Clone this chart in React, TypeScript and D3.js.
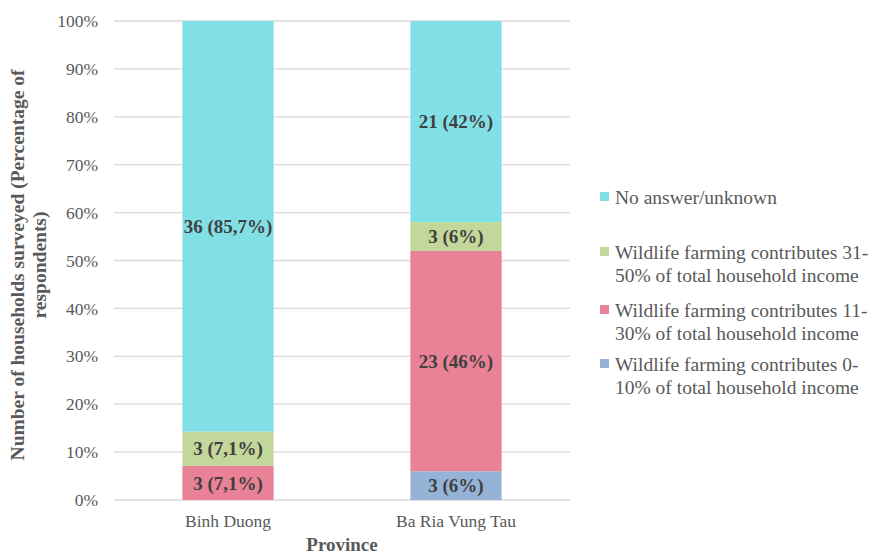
import React from "react";
import * as d3 from "d3";

const categories = ["Binh Duong", "Ba Ria Vung Tau"];
const seriesNames = [
  "Wildlife farming contributes 0-10% of total household income",
  "Wildlife farming contributes 11-30% of total household income",
  "Wildlife farming contributes 31-50% of total household income",
  "No answer/unknown",
];
const counts = [
  [0, 3],
  [3, 23],
  [3, 3],
  [36, 21],
];
const labels = [
  ["", "3 (6%)"],
  ["3 (7,1%)", "23 (46%)"],
  ["3 (7,1%)", "3 (6%)"],
  ["36 (85,7%)", "21 (42%)"],
];
const colors = ["#95B3D7", "#E98296", "#C4D79B", "#80E0E6"];
const yTicks = [0, 0.1, 0.2, 0.3, 0.4, 0.5, 0.6, 0.7, 0.8, 0.9, 1];

const legendOrder = [
  { idx: 3, lines: ["No answer/unknown"], y: 197 },
  { idx: 2, lines: ["Wildlife farming contributes 31-", "50% of total household income"], y: 252 },
  { idx: 1, lines: ["Wildlife farming contributes 11-", "30% of total household income"], y: 310 },
  { idx: 0, lines: ["Wildlife farming contributes 0-", "10% of total household income"], y: 364 },
];

export default function App() {
  const W = 876, H = 556;
  const left = 114, right = 570, top = 21, bottom = 500;
  const x = d3.scaleBand().domain(categories).range([left, right]).paddingInner(0.6).paddingOuter(0.3);
  const y = d3.scaleLinear().domain([0, 1]).range([bottom, top]);
  const totals = categories.map((_, ci) => d3.sum(counts, (s) => s[ci]));
  const font = '"Liberation Serif", "Times New Roman", Times, "DejaVu Serif", serif';

  const segs: any[] = [];
  categories.forEach((c, ci) => {
    let acc = 0;
    counts.forEach((s, si) => {
      const v = s[ci] / totals[ci];
      segs.push({ c, si, y0: acc, y1: acc + v, label: labels[si][ci] });
      acc += v;
    });
  });

  return (
    <svg width={W} height={H} style={{ position: "absolute", left: 0, top: 0, fontFamily: font }}>
      <rect width={W} height={H} fill="#fff" />
      {yTicks.map((t) => (
        <g key={t}>
          <line x1={left} x2={right} y1={y(t)} y2={y(t)} stroke="#D9D9D9" strokeWidth={1.3} />
          <text x={98} y={y(t)} dy="0.35em" textAnchor="end" fontSize={17.5} fill="#595959">
            {d3.format(".0%")(t)}
          </text>
        </g>
      ))}
      {segs.filter((s) => s.y1 > s.y0).map((s, i) => (
        <rect key={i} x={x(s.c)!} width={x.bandwidth()} y={y(s.y1)} height={y(s.y0) - y(s.y1)} fill={colors[s.si]} />
      ))}
      {segs.filter((s) => s.label).map((s, i) => (
        <text key={i} x={x(s.c)! + x.bandwidth() / 2} y={y((s.y0 + s.y1) / 2)} dy="0.35em" textAnchor="middle"
          fontSize={19} fontWeight="bold" fill="#404040">
          {s.label}
        </text>
      ))}
      {categories.map((c) => (
        <text key={c} x={x(c)! + x.bandwidth() / 2} y={527} textAnchor="middle" fontSize={17.5} fill="#595959">
          {c}
        </text>
      ))}
      <text x={342} y={551} textAnchor="middle" fontSize={19} fontWeight="bold" fill="#595959">Province</text>
      <g transform="translate(0,265) rotate(-90)">
        <text x={0} y={24} textAnchor="middle" fontSize={19.5} fontWeight="bold" fill="#595959">
          Number of households surveyed (Percentage of
        </text>
        <text x={0} y={46} textAnchor="middle" fontSize={19.5} fontWeight="bold" fill="#595959">
          respondents)
        </text>
      </g>
      {legendOrder.map((l) => (
        <g key={l.idx}>
          <rect x={600} y={l.y - 5} width={9} height={9} fill={colors[l.idx]} />
          {l.lines.map((ln, k) => (
            <text key={k} x={615} y={l.y + k * 23} dy="0.35em" fontSize={19.5} fill="#595959">{ln}</text>
          ))}
        </g>
      ))}
    </svg>
  );
}
